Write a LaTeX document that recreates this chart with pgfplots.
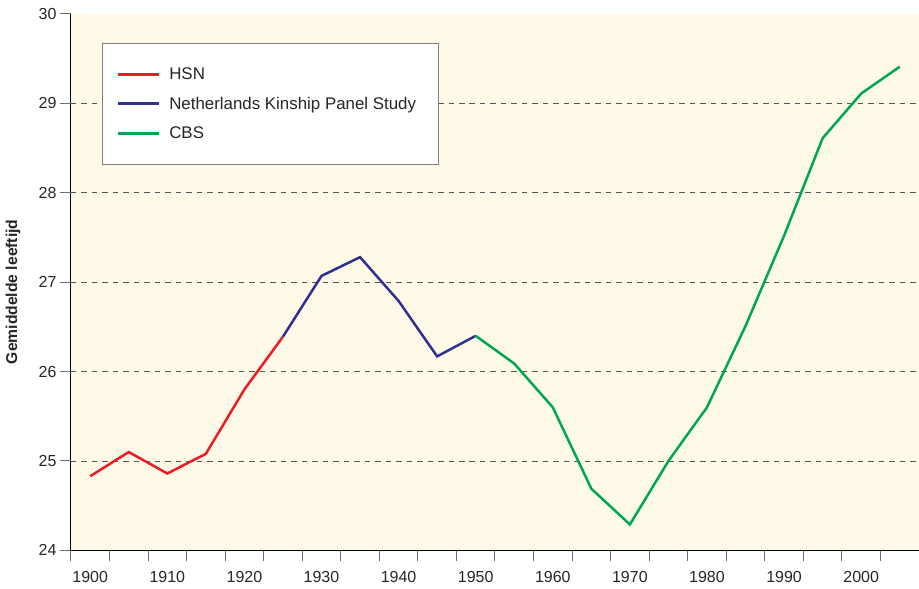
\documentclass[border=0pt]{standalone}
\usepackage{pgfplots}
\pgfplotsset{compat=1.18}
\usepackage{fontspec}
\setmainfont{Liberation Sans}
\definecolor{bgc}{RGB}{255,250,232}
\definecolor{hsn}{RGB}{237,28,36}
\definecolor{nkps}{RGB}{46,49,146}
\definecolor{cbs}{RGB}{0,166,81}
\definecolor{gridc}{RGB}{85,85,85}
\definecolor{tickc}{RGB}{110,110,110}
\begin{document}
\begin{tikzpicture}
\begin{axis}[
  width=849pt, height=537pt, scale only axis,
  xmin=1897.5, xmax=2007.5, ymin=24, ymax=30,
  axis lines*=left,
  axis line style={black, line width=1.1pt},
  axis background/.style={fill=bgc},
  tick align=outside,
  major tick length=11pt, minor tick length=11pt,
  xtick={1900,1910,...,2000},
  major x tick style={draw=none},
  minor xtick={1897.5,1902.5,...,2002.5},
  minor x tick style={draw=tickc, line width=1pt},
  ytick={24,25,...,30},
  major y tick style={draw=tickc, line width=1pt},
  extra y ticks={25,26,27,28,29},
  extra y tick labels={},
  extra y tick style={grid=major, major grid style={gridc, line width=0.9pt, dash pattern=on 5.5pt off 5pt}},
  /pgf/number format/assume math mode=true,
  /pgf/number format/1000 sep={},
  tick label style={font=\fontsize{16}{19}\selectfont, text=black!85},
  xticklabel style={yshift=-6pt},
  ylabel={Gemiddelde leeftijd},
  every axis y label/.style={at={(axis description cs:-0.0683,0.482)}, anchor=center, rotate=90, font=\bfseries\fontsize{15.7}{18}\selectfont, text=black!85},
  legend style={at={(0.0365,0.946)}, anchor=north west, draw=gray, line width=1pt, fill=white,
    inner xsep=14pt, inner ysep=22pt, row sep=12.2pt, column sep=7pt,
    font=\fontsize{16.9}{20}\selectfont, text=black!85},
  legend cell align=left,
  legend image code/.code={\draw[#1, line width=3pt] (0pt,0pt) -- (41pt,0pt);},
]
\coordinate (SW) at (rel axis cs:0,0);
\coordinate (NE) at (rel axis cs:1,1);
\addplot[hsn, line width=2.5pt] coordinates {
(1900,24.83) (1905,25.10) (1910,24.86) (1915,25.08) (1920,25.80) (1925,26.39)};
\addlegendentry{HSN}
\addplot[nkps, line width=2.5pt] coordinates {
(1925,26.39) (1930,27.07) (1935,27.28) (1940,26.79) (1945,26.17) (1950,26.40)};
\addlegendentry{Netherlands Kinship Panel Study\rule{6pt}{0pt}}
\addplot[cbs, line width=2.5pt] coordinates {
(1950,26.40) (1955,26.09) (1960,25.60) (1965,24.69) (1970,24.29) (1975,25.00)
(1980,25.60) (1985,26.51) (1990,27.52) (1995,28.61) (2000,29.11) (2005,29.41)};
\addlegendentry{CBS}
\end{axis}
\pgfresetboundingbox
\path ([xshift=-71pt,yshift=-38pt]SW) rectangle ([yshift=14pt]NE);
\end{tikzpicture}
\end{document}
